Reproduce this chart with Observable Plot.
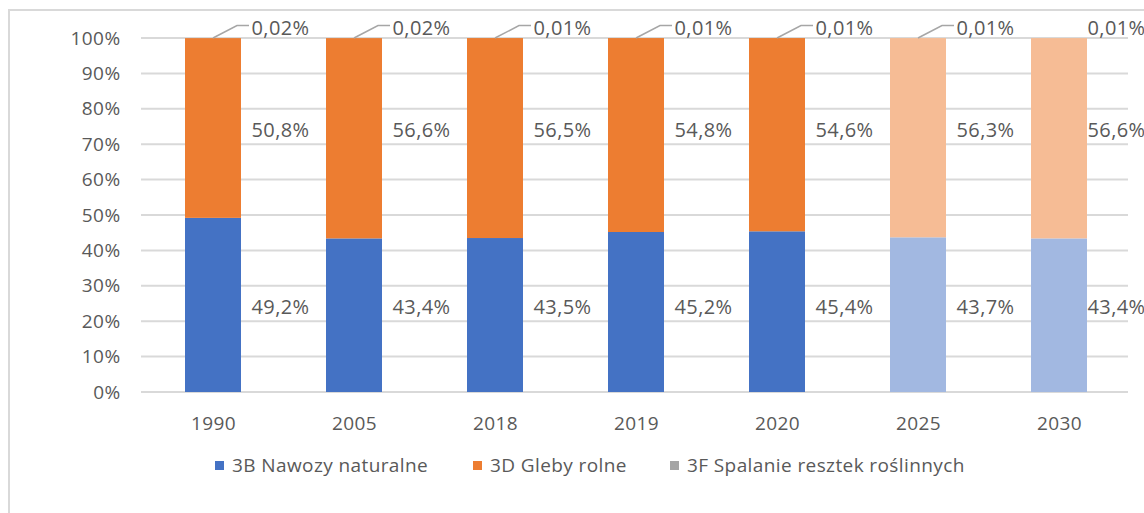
<!DOCTYPE html>
<html>
<head>
<meta charset="utf-8">
<script src="https://cdn.jsdelivr.net/npm/d3@7"></script>
<script src="https://cdn.jsdelivr.net/npm/@observablehq/plot@0.6"></script>
<style>
  html, body { margin: 0; padding: 0; background: #fff; overflow: hidden; }
  body { width: 1144px; height: 513px; position: relative; font-family: "Open Sans", Lato, sans-serif; }
  #frame { position: absolute; left: 8px; top: 9px; width: 1160px; height: 520px; border: 2px solid #d9d9d9; box-sizing: border-box; }
  #chart { position: absolute; left: 0; top: 0; }
  #chart svg text { letter-spacing: 0.4px; }
  #legend { position: absolute; top: 453px; left: 0; width: 1144px; height: 24px; font-size: 19px; letter-spacing: 0.4px; color: #595959; }
  .item { position: absolute; top: 0; display: flex; align-items: center; white-space: nowrap; height: 24px; }
  .sw { width: 9px; height: 9px; margin-right: 8px; }
</style>
</head>
<body>
<div id="frame"></div>
<div id="chart"></div>
<div id="legend"></div>
<script>
const years = ["1990", "2005", "2018", "2019", "2020", "2025", "2030"];
const projected = ["2025", "2030"];
const seriesNames = ["3B Nawozy naturalne", "3D Gleby rolne", "3F Spalanie resztek roślinnych"];
const v3B = [49.2, 43.4, 43.5, 45.2, 45.4, 43.7, 43.4];
const v3D = [50.8, 56.6, 56.5, 54.8, 54.6, 56.3, 56.6];
const v3F = [0.02, 0.02, 0.01, 0.01, 0.01, 0.01, 0.01];
const yTicks = [0, 0.1, 0.2, 0.3, 0.4, 0.5, 0.6, 0.7, 0.8, 0.9, 1];
const leaderYears = ["1990", "2005", "2018", "2019", "2020", "2025"];
const edgeYear = "2030";

const colors = {
  "3B Nawozy naturalne": ["#4472C4", "#A2B8E1"],
  "3D Gleby rolne": ["#ED7D31", "#F6BC95"],
  "3F Spalanie resztek roślinnych": ["#A5A5A5", "#D2D2D2"]
};

const seriesValues = [v3B, v3D, v3F];
const rows = [];
seriesNames.forEach((s, si) => {
  years.forEach((yr, i) => rows.push({year: yr, series: s, value: seriesValues[si][i], si}));
});
const fmt = v => v.toFixed(v < 1 ? 2 : 1).replace(".", ",") + "%";

const labels = [
  ...years.map((yr, i) => ({year: yr, text: fmt(v3B[i]), y: 0.24})),
  ...years.map((yr, i) => ({year: yr, text: fmt(v3D[i]), y: 0.74})),
  ...years.map((yr, i) => ({year: yr, text: fmt(v3F[i]), y: 1.028}))
];

const FONT = "'Open Sans', Lato, sans-serif";
const textStyle = {fontSize: 20, fill: "#595959", fontFamily: FONT};

const plot = Plot.plot({
  width: 1144,
  height: 442,
  marginLeft: 141,
  marginRight: 13,
  marginTop: 38,
  marginBottom: 50,
  style: {background: "transparent", overflow: "visible", fontFamily: FONT},
  x: {domain: years, paddingInner: 0.6, paddingOuter: 0.3, label: null},
  y: {domain: [0, 1], label: null},
  marks: [
    Plot.ruleY(yTicks, {y: d => d,
      render: (index, scales, values, dims) => {
        const g = d3.create("svg:g");
        for (const t of yTicks) {
          const yy = scales.y(t);
          g.append("line").attr("x1", dims.marginLeft).attr("x2", dims.width - dims.marginRight - 3)
            .attr("y1", yy).attr("y2", yy).attr("stroke", "#d9d9d9").attr("stroke-width", 2);
        }
        return g.node();
      }}),
    Plot.barY(rows, Plot.stackY({offset: "normalize", order: null}, {
      x: "year", y: "value", z: "series",
      fill: d => colors[d.series][projected.includes(d.year) ? 1 : 0]
    })),
    Plot.axisY({ticks: yTicks, tickFormat: d => Math.round(d * 100) + "%", tickSize: 0, tickPadding: 21, fontSize: 19, color: "#595959", fontFamily: FONT, label: null}),
    Plot.axisX({tickSize: 0, tickPadding: 24, fontSize: 19, color: "#595959", fontFamily: FONT, label: null}),
    Plot.text(labels, {filter: d => d.year !== edgeYear, x: "year", y: "y", text: "text", textAnchor: "start", dx: 38, ...textStyle}),
    Plot.text(labels, {filter: d => d.year === edgeYear, x: "year", y: "y", text: "text", textAnchor: "start", dx: 28, ...textStyle}),
    Plot.dot(leaderYears, {x: d => d, y: () => 1,
      render: (index, scales) => {
        const g = d3.create("svg:g");
        const bw = scales.x.bandwidth();
        for (const yr of leaderYears) {
          const cx = scales.x(yr) + bw / 2;
          const y0 = scales.y(1);
          const y1 = scales.y(1.035);
          g.append("path")
            .attr("d", `M${cx},${y0}L${cx + 24},${y1}L${cx + 36},${y1}`)
            .attr("fill", "none").attr("stroke", "#a6a6a6").attr("stroke-width", 1.5);
        }
        return g.node();
      }})
  ]
});
document.getElementById("chart").appendChild(plot);

const legend = document.getElementById("legend");
const legendLeft = [215, 473, 670];
seriesNames.forEach((s, i) => {
  const it = document.createElement("div");
  it.className = "item";
  it.style.left = legendLeft[i] + "px";
  const sw = document.createElement("span");
  sw.className = "sw";
  sw.style.background = colors[s][0];
  it.appendChild(sw);
  const t = document.createElement("span");
  t.textContent = s;
  it.appendChild(t);
  legend.appendChild(it);
});
</script>
</body>
</html>
